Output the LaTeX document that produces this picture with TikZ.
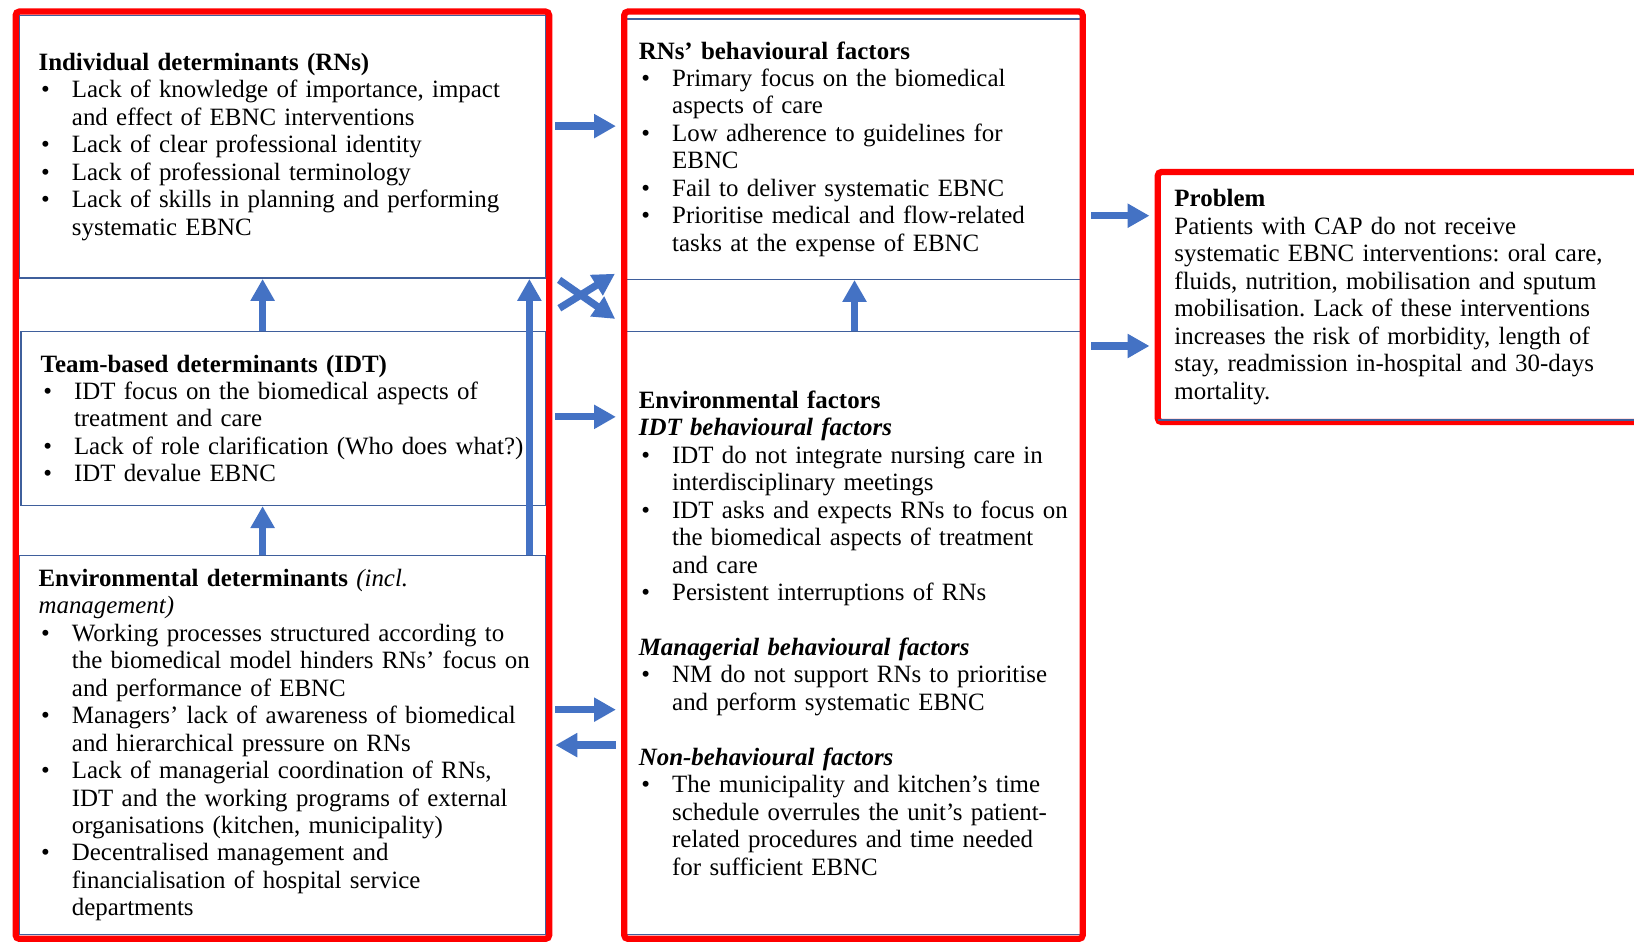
\documentclass[tikz,border=0pt]{standalone}
\usepackage{fontspec}
\setmainfont{Liberation Serif}
\usetikzlibrary{arrows.meta}
\setlength{\parindent}{0pt}
\frenchspacing
\definecolor{frame}{HTML}{FF0000}
\definecolor{arrowblue}{HTML}{4472C4}
\definecolor{boxblue}{HTML}{3F5F9C}
\newcommand{\bitem}[1]{\par\rightskip=0pt plus 1fil minus 1cm\hangindent=0.64cm\hangafter=1\noindent\makebox[0.64cm][l]{\hspace{0.05cm}\textbullet}#1\par}
\tikzset{
  grp/.style={draw=frame,line width=0.12cm,rounded corners=2pt,inner sep=0pt},
  blk/.style={draw=boxblue,line width=0.8pt,inner xsep=0.38cm,inner ysep=0pt,align=left,font=\fontsize{13.6}{15}\selectfont},
  arr/.style={draw=arrowblue,line width=0.14cm,-{Triangle[length=0.42cm,width=0.44cm]}}
}
\begin{document}
\begin{tikzpicture}[x=0.02cm,y=-0.02cm]
\useasboundingbox (0,0) rectangle (1568,904);
% determinants
\node[blk,text width=9.36cm,minimum height=5.04cm](indiv)at(271,141){\textbf{Individual determinants (RNs)}
\bitem{Lack of knowledge of importance, impact\newline and effect of EBNC interventions}
\bitem{Lack of clear professional identity}
\bitem{Lack of professional terminology}
\bitem{Lack of skills in planning and performing\newline systematic EBNC}};
\node[blk,text width=9.32cm,minimum height=3.34cm](team)at(272,401.5){\textbf{Team-based determinants (IDT)}
\bitem{IDT focus on the biomedical aspects of\newline treatment and care}
\bitem{Lack of role clarification (Who does what?)}
\bitem{IDT devalue EBNC}};
\node[blk,text width=9.36cm,minimum height=7.28cm](envdet)at(271,715){\textbf{Environmental determinants} \textit{(incl.\newline management)}
\bitem{Working processes structured according to\newline the biomedical model hinders RNs’ focus on\newline and performance of EBNC}
\bitem{Managers’ lack of awareness of biomedical\newline and hierarchical pressure on RNs}
\bitem{Lack of managerial coordination of RNs,\newline IDT and the working programs of external\newline organisations (kitchen, municipality)}
\bitem{Decentralised management and\newline financialisation of hospital service\newline departments}};
% factors
\node[blk,inner xsep=0.26cm,text width=8.24cm,minimum height=5cm](rnsbeh)at(819,143){\textbf{RNs’ behavioural factors}
\bitem{Primary focus on the biomedical\newline aspects of care}
\bitem{Low adherence to guidelines for\newline EBNC}
\bitem{Fail to deliver systematic EBNC}
\bitem{Prioritise medical and flow-related\newline tasks at the expense of EBNC}};
\node[blk,inner xsep=0.26cm,text width=8.24cm,minimum height=11.58cm](envfac)at(819,607.5){\textbf{Environmental factors}\par
\textbf{\textit{IDT behavioural factors}}
\bitem{IDT do not integrate nursing care in\newline interdisciplinary meetings}
\bitem{IDT asks and expects RNs to focus on\newline the biomedical aspects of treatment\newline and care}
\bitem{Persistent interruptions of RNs}\vspace{15pt}
\textbf{\textit{Managerial behavioural factors}}
\bitem{NM do not support RNs to prioritise\newline and perform systematic EBNC}\vspace{15pt}
\textbf{\textit{Non-behavioural factors}}
\bitem{The municipality and kitchen’s time\newline schedule overrules the unit’s patient-\newline related procedures and time needed\newline for sufficient EBNC}};
% problem
\node[blk,draw=frame,line width=0.12cm,rounded corners=2pt,inner xsep=0.32cm,text width=8.94cm,minimum height=4.8cm](problem)at(1350.5,285){\textbf{Problem}\par
Patients with CAP do not receive\newline systematic EBNC interventions: oral care,\newline fluids, nutrition, mobilisation and sputum\newline mobilisation. Lack of these interventions\newline increases the risk of morbidity, length of\newline stay, readmission in-hospital and 30-days\newline mortality.};
\draw[boxblue,line width=0.8pt]([shift={(0.06cm,0.1cm)}]problem.south west)--([yshift=0.1cm]problem.south east);
% arrows
\coordinate (a1) at (252,0);
\coordinate (a2) at (508,0);
\coordinate (a3) at (820,0);
\draw[arr](team.north-|a1)--(indiv.south-|a1);
\draw[arr](envdet.north-|a1)--(team.south-|a1);
\draw[arr](envdet.north-|a2)--(indiv.south-|a2);
\draw[arr](envfac.north-|a3)--(rnsbeh.south-|a3);
\node[grp,minimum width=10.24cm,minimum height=17.8cm](left)at(271,456){};
\node[grp,minimum width=8.8cm,minimum height=17.8cm](mid)at(819,456){};
\foreach \y in {121,400,681} \draw[arr,shorten <=0.06cm,shorten >=0.1cm](left.east|-0,\y)--(mid.west|-0,\y);
\draw[arr,shorten <=0.1cm,shorten >=0.06cm](mid.west|-0,715)--(left.east|-0,715);
\draw[arr,shorten <=0.16cm,shorten >=0.14cm](left.east|-0,300)--(mid.west|-0,259);
\draw[arr,shorten <=0.16cm,shorten >=0.14cm](left.east|-0,264)--(mid.west|-0,310);
\foreach \y in {207,332} \draw[arr,shorten <=0.1cm,shorten >=0.1cm](mid.east|-0,\y)--(problem.west|-0,\y);
\end{tikzpicture}
\end{document}
